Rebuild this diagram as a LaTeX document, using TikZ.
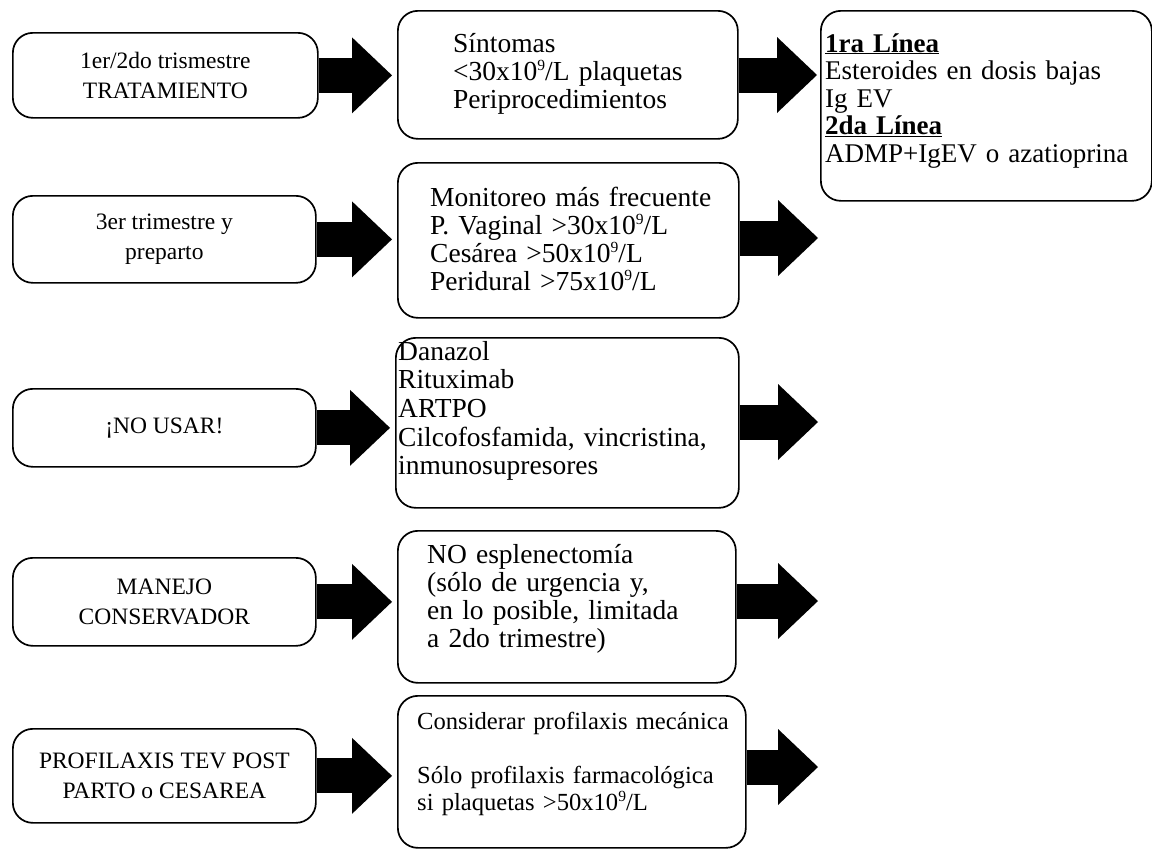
\documentclass[tikz,border=0pt]{standalone}
\usepackage{fontspec}
\setmainfont{Liberation Serif}
\usetikzlibrary{arrows.meta}
% small raised exponent used in the platelet counts
\newcommand{\expnine}{\raisebox{0.36em}{\fontsize{15.5}{15.5}\selectfont 9}}
\begin{document}
\begin{tikzpicture}[x=1pt,y=-1pt,
  box/.style={draw, line width=1.7pt, rounded corners=20pt, inner sep=0pt, anchor=north west},
  lefttext/.style={font=\fontsize{23.5}{29.5}\selectfont, align=center},
  txt/.style={font=\fontsize{27.5}{28}\selectfont, align=left, text width=345pt, inner sep=0pt, anchor=base west},
  blk/.style={line width=35pt, -{Triangle[length=40pt, width=76pt, line width=0pt]}},
]
\useasboundingbox (0,0) rectangle (1152,849);

% left column: situations
\node[box, lefttext, minimum width=305pt, minimum height=85pt] (L1) at (12,32) {1er/2do trismestre\\TRATAMIENTO};
\node[box, lefttext, minimum width=303pt, minimum height=87pt] (L2) at (12,195) {3er trimestre y\\preparto};
\node[box, lefttext, minimum width=303pt, minimum height=78pt] (L3) at (12,388) {¡NO USAR!};
\node[box, lefttext, minimum width=303pt, minimum height=88pt] (L4) at (12,557) {MANEJO\\CONSERVADOR};
\node[box, lefttext, minimum width=303pt, minimum height=94pt] (L5) at (12,728) {PROFILAXIS TEV POST\\PARTO o CESAREA};

% middle column: indications
\node[box, minimum width=340pt, minimum height=128pt] (M1) at (397,10) {};
\node[box, minimum width=341pt, minimum height=155pt] (M2) at (397,162) {};
\node[box, minimum width=343pt, minimum height=170pt] (M3) at (395,337) {};
\node[box, minimum width=338pt, minimum height=152pt] (M4) at (397,530) {};
\node[box, minimum width=348pt, minimum height=152pt] (M5) at (397,695) {};

\node[txt] (M1t) at (453,52) {Síntomas\\<30x10\expnine/L plaquetas\\Periprocedimientos};
\node[txt] (M2t) at (430,206) {Monitoreo más frecuente\\P. Vaginal >30x10\expnine/L\\Cesárea >50x10\expnine/L\\Peridural >75x10\expnine/L};
\node[txt, font=\fontsize{27.5}{28.7}\selectfont] (M3t) at (398,360) {Danazol\\Rituximab\\ARTPO\\Cilcofosfamida, vincristina,\\inmunosupresores};
\node[txt] (M4t) at (427,563) {NO esplenectomía\\(sólo de urgencia y,\\en lo posible, limitada\\a 2do trimestre)};
\node[txt, font=\fontsize{24.6}{27}\selectfont] (M5t) at (417,729) {Considerar profilaxis mecánica\\[27pt]Sólo profilaxis farmacológica\\si plaquetas >50x10\expnine/L};

% right column: treatment lines
\node[box, minimum width=331pt, minimum height=190pt] (R) at (820,10) {};
\node[txt, font=\fontsize{27}{27.5}\selectfont] (Rt) at (825,52) {\underline{\textbf{1ra Línea}}\\Esteroides en dosis bajas\\Ig EV\\\underline{\textbf{2da Línea}}\\ADMP+IgEV o azatioprina};

% block arrows from the left column
\draw[blk, shorten >=5pt] (L1.east) -- (L1.east -| M1.west);
\draw[blk, shorten >=5pt] (L2.east) -- (L2.east -| M2.west);
\draw[blk, shorten >=5pt] (L3.east) -- (L3.east -| M3.west);
\draw[blk, shorten >=5pt] (L4.east) -- (L4.east -| M4.west);
\draw[blk, shorten >=5pt] (L5.east) -- (L5.east -| M5.west);

% block arrows from the middle column
\coordinate (e1) at (817,75);
\coordinate (e2) at (818,238);
\coordinate (e3) at (818,422);
\coordinate (e4) at (818,601);
\coordinate (e5) at (818,767);
\draw[blk] (M1.east |- e1) -- (e1);
\draw[blk] (M2.east |- e2) -- (e2);
\draw[blk] (M3.east |- e3) -- (e3);
\draw[blk] (M4.east |- e4) -- (e4);
\draw[blk] (M5.east |- e5) -- (e5);
\end{tikzpicture}
\end{document}
